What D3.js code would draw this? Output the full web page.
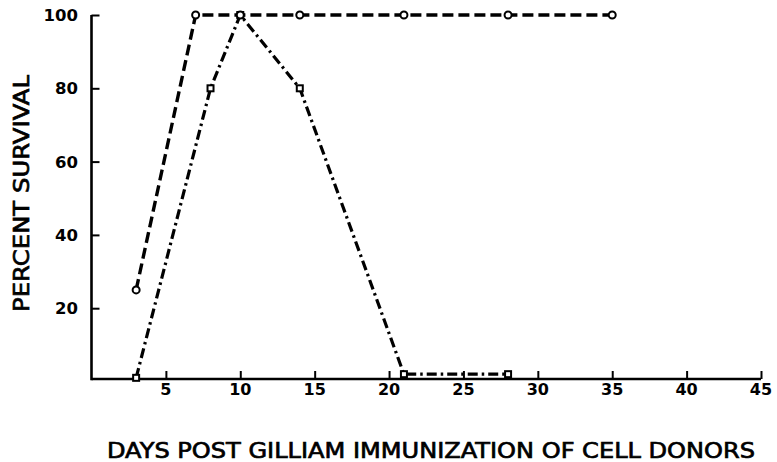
<!DOCTYPE html>
<html>
<head>
<meta charset="utf-8">
<title>Percent survival</title>
<script src="https://d3js.org/d3.v7.min.js"></script>
<style>
  body { margin: 0; background: #fff; }
  svg text { font-family: "DejaVu Sans", sans-serif; fill: #000; }
</style>
</head>
<body>
<svg id="chart" width="777" height="462"></svg>
<script>
// data
const daysA = [3, 7, 10, 14, 21, 28, 35];
const survA = [25, 100, 100, 100, 100, 100, 100];
const daysB = [3, 8, 10, 14, 21, 28];
const survB = [1, 80, 100, 80, 2, 2];
const xTicks = [5, 10, 15, 20, 25, 30, 35, 40, 45];
const yTicks = [20, 40, 60, 80, 100];

const svg = d3.select("#chart");

const x = d3.scaleLinear().domain([0, 45]).range([91.5, 761]);
const y = d3.scaleLinear().domain([0, 100]).range([381.5, 15]);
const axisY = 379;

// x axis: ticks point up into the plot
const gx = svg.append("g").attr("transform", "translate(0," + axisY + ")")
  .call(d3.axisTop(x).tickValues(xTicks).tickSize(8).tickSizeOuter(0).tickFormat(""));
gx.select(".domain").attr("stroke-width", 2.6).attr("d", "M" + x(0) + ",0H" + x(45));
gx.selectAll(".tick line").attr("stroke-width", 2);

svg.selectAll(".xlab").data(xTicks).enter().append("text")
  .attr("x", d => x(d)).attr("y", 395)
  .attr("text-anchor", "middle")
  .attr("font-size", 16).attr("font-weight", "bold")
  .text(d => d);

// y axis: ticks point right into the plot
const gy = svg.append("g").attr("transform", "translate(" + x(0) + ",0)")
  .call(d3.axisRight(y).tickValues(yTicks).tickSize(8).tickSizeOuter(0).tickFormat(""));
gy.select(".domain").attr("stroke-width", 2.6).attr("d", "M0," + y(100) + "V" + (axisY + 1.3));
gy.selectAll(".tick line").attr("stroke-width", 2);

svg.selectAll(".ylab").data(yTicks).enter().append("text")
  .attr("x", 78).attr("y", d => y(d) + 6)
  .attr("text-anchor", "end")
  .attr("font-size", 16.5).attr("font-weight", "bold")
  .text(d => d);

// lines
const line = d3.line().x(d => x(d[0])).y(d => y(d[1]));
const ptsA = daysA.map((d, i) => [d, survA[i]]);
const ptsB = daysB.map((d, i) => [d, survB[i]]);

svg.append("path").datum(ptsB).attr("d", line)
  .attr("fill", "none").attr("stroke", "#000").attr("stroke-width", 3.2)
  .attr("stroke-dasharray", "10,4,2.5,4");

svg.append("path").datum(ptsA).attr("d", line)
  .attr("fill", "none").attr("stroke", "#000").attr("stroke-width", 3.4)
  .attr("stroke-dasharray", "11,5");

// markers
svg.selectAll(".mb").data(ptsB).enter().append("rect")
  .attr("x", d => x(d[0]) - 3).attr("y", d => y(d[1]) - 3)
  .attr("width", 6).attr("height", 6)
  .attr("fill", "#fff").attr("stroke", "#000").attr("stroke-width", 2);

svg.selectAll(".ma").data(ptsA).enter().append("circle")
  .attr("cx", d => x(d[0])).attr("cy", d => y(d[1])).attr("r", 3.5)
  .attr("fill", "#fff").attr("stroke", "#000").attr("stroke-width", 2);

// axis titles
svg.append("text")
  .attr("x", 107).attr("y", 458)
  .attr("font-size", 21.5)
  .attr("stroke", "#000").attr("stroke-width", 0.7)
  .attr("textLength", 648).attr("lengthAdjust", "spacingAndGlyphs")
  .text("DAYS POST GILLIAM IMMUNIZATION OF CELL DONORS");

svg.append("text")
  .attr("transform", "translate(28.5,312) rotate(-90)")
  .attr("font-size", 20.5)
  .attr("stroke", "#000").attr("stroke-width", 0.7)
  .attr("textLength", 237).attr("lengthAdjust", "spacingAndGlyphs")
  .text("PERCENT SURVIVAL");
</script>
</body>
</html>
